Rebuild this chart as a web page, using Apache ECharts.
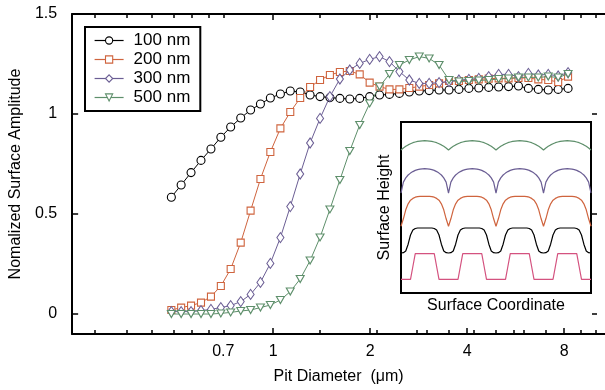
<!DOCTYPE html>
<html>
<head>
<meta charset="utf-8">
<script src="https://cdn.jsdelivr.net/npm/echarts@6/dist/echarts.min.js"></script>
<style>
  html, body { margin: 0; padding: 0; background: #fff; }
  #chart { width: 605px; height: 390px; }
</style>
</head>
<body>
<div id="chart"></div>
<script>
// pit diameter (um), same sampling for every wavelength
const pitDiameter = [0.483, 0.518, 0.556, 0.597, 0.641, 0.688, 0.738, 0.793, 0.851, 0.913,
  0.980, 1.053, 1.130, 1.213, 1.302, 1.398, 1.500, 1.611, 1.729, 1.856,
  1.993, 2.139, 2.296, 2.465, 2.646, 2.841, 3.049, 3.273, 3.514, 3.772,
  4.050, 4.347, 4.667, 5.010, 5.378, 5.773, 6.197, 6.653, 7.142, 7.667, 8.230];

const amp100 = [0.584, 0.645, 0.707, 0.768, 0.825, 0.884, 0.935, 0.980, 1.020, 1.050,
  1.080, 1.100, 1.115, 1.110, 1.095, 1.087, 1.082, 1.078, 1.075, 1.078,
  1.087, 1.095, 1.098, 1.103, 1.110, 1.115, 1.117, 1.120, 1.120, 1.123,
  1.128, 1.130, 1.133, 1.135, 1.137, 1.140, 1.128, 1.123, 1.120, 1.123, 1.128];
const amp200 = [0.020, 0.032, 0.042, 0.057, 0.087, 0.140, 0.225, 0.357, 0.517, 0.675,
  0.810, 0.928, 1.010, 1.080, 1.135, 1.170, 1.195, 1.210, 1.215, 1.198,
  1.157, 1.137, 1.123, 1.123, 1.130, 1.137, 1.145, 1.153, 1.165, 1.165,
  1.170, 1.173, 1.177, 1.178, 1.178, 1.180, 1.180, 1.173, 1.170, 1.160, 1.187];
const amp300 = [0.012, 0.012, 0.012, 0.017, 0.023, 0.032, 0.042, 0.062, 0.098, 0.158,
  0.253, 0.382, 0.537, 0.700, 0.855, 0.978, 1.087, 1.175, 1.220, 1.253,
  1.273, 1.287, 1.262, 1.212, 1.170, 1.153, 1.153, 1.157, 1.162, 1.170,
  1.173, 1.178, 1.187, 1.198, 1.198, 1.187, 1.203, 1.195, 1.198, 1.190, 1.207];
const amp500 = [0.000, 0.000, 0.000, 0.000, 0.000, 0.003, 0.008, 0.015, 0.020, 0.032,
  0.045, 0.070, 0.112, 0.175, 0.267, 0.383, 0.523, 0.670, 0.815, 0.945,
  1.053, 1.137, 1.200, 1.245, 1.270, 1.287, 1.278, 1.245, 1.170, 1.162,
  1.165, 1.168, 1.170, 1.175, 1.178, 1.183, 1.183, 1.183, 1.187, 1.183, 1.200];

const seriesNames = ['100 nm', '200 nm', '300 nm', '500 nm'];

const xTickValues = [0.7, 1, 2, 4, 8];
const xTickLabels = ['0.7', '1', '2', '4', '8'];
const xMajorTicks = [1, 2, 4, 8];
const xMinorTicks = [0.28, 0.35, 0.42, 0.49, 0.56, 0.63, 0.7, 1.4, 2.1, 2.8, 3, 3.5,
  4.2, 4.9, 5.6, 6, 7, 9, 10];
const yTickValues = [0, 0.5, 1, 1.5];

// inset: one period of each surface profile (arbitrary height units)
const insetPhase = [0, 0.05, 0.1, 0.15, 0.2, 0.25, 0.3, 0.35, 0.4, 0.45, 0.5,
  0.55, 0.6, 0.65, 0.7, 0.75, 0.8, 0.85, 0.9, 0.95, 1];
const profile500 = [14.30, 14.50, 14.67, 14.81, 14.92, 15.03, 15.10, 15.16, 15.19, 15.22, 15.23,
  15.22, 15.19, 15.16, 15.10, 15.03, 14.92, 14.81, 14.67, 14.50, 14.30];
const profile300 = [10.00, 11.09, 11.51, 11.80, 11.99, 12.14, 12.26, 12.33, 12.39, 12.42, 12.43,
  12.42, 12.39, 12.33, 12.26, 12.14, 11.99, 11.80, 11.51, 11.09, 10.00];
const profile200 = [6.67, 7.42, 8.32, 8.92, 9.28, 9.46, 9.58, 9.64, 9.67, 9.67, 9.67,
  9.67, 9.67, 9.64, 9.58, 9.46, 9.28, 8.92, 8.32, 7.42, 6.67];
const profile100 = [4.00, 4.03, 4.20, 4.88, 5.80, 6.30, 6.45, 6.50, 6.50, 6.50, 6.50,
  6.50, 6.50, 6.50, 6.45, 6.30, 5.80, 4.88, 4.20, 4.03, 4.00];
const pitProfile = [1.37, 1.37, 1.37, 1.37, 1.37, 2.65, 3.93, 3.93, 3.93, 3.93, 3.93,
  3.93, 3.93, 3.93, 3.93, 2.65, 1.37, 1.37, 1.37, 1.37, 1.37];
const insetPeriods = 4;

const colors = ['#000000', '#cf643e', '#6b5e94', '#5e8f6b'];
const pitColor = '#d4527f';
const font = 'Liberation Sans, Arial, Helvetica, sans-serif';

const lg = v => Math.log10(v);

function repeatProfile(profile) {
  const out = [];
  for (let k = 0; k < insetPeriods; k++) {
    insetPhase.forEach((p, j) => {
      if (k > 0 && j === 0) return;
      out.push([k + p, profile[j]]);
    });
  }
  return out;
}

const chart = echarts.init(document.getElementById('chart'), null, { renderer: 'canvas' });

const xMin = -0.624, xMax = 1.03;
const axisBlack = { color: '#000', width: 2 };

function xAxisDef(position, ticks, len, withLine, withLabel) {
  return {
    type: 'value', gridIndex: 0, position: position, min: xMin, max: xMax,
    axisLine: { show: withLine, onZero: false, lineStyle: axisBlack },
    axisTick: { show: true, inside: true, length: len, customValues: ticks.map(lg),
      lineStyle: { color: '#000', width: 1.5 } },
    axisLabel: {
      show: withLabel, margin: 10, fontSize: 16, color: '#000', fontFamily: font,
      customValues: xTickValues.map(lg),
      formatter: v => {
        const i = xTickValues.findIndex(t => Math.abs(lg(t) - v) < 1e-6);
        return i >= 0 ? xTickLabels[i] : '';
      }
    },
    splitLine: { show: false }
  };
}

const mainX = xAxisDef('bottom', xMajorTicks, 6, true, true);
mainX.name = 'Pit Diameter  (\u03bcm)';
mainX.nameLocation = 'middle';
mainX.nameGap = 35;
mainX.nameTextStyle = { fontSize: 16, color: '#000', fontFamily: font };

const symbols = [
  { symbol: 'circle', size: 8, rotate: 0 },
  { symbol: 'rect', size: 7, rotate: 0 },
  { symbol: 'diamond', size: [7, 10], rotate: 0 },
  { symbol: 'triangle', size: [8, 7], rotate: 180 }
];
const amps = [amp100, amp200, amp300, amp500];

const mainSeries = amps.map((a, s) => ({
  name: seriesNames[s], type: 'line', xAxisIndex: 0, yAxisIndex: 0,
  data: pitDiameter.map((d, i) => [lg(d), a[i]]),
  symbol: symbols[s].symbol, symbolSize: symbols[s].size, symbolRotate: symbols[s].rotate,
  showAllSymbol: true,
  lineStyle: { color: colors[s], width: 1 },
  itemStyle: { color: '#fff', borderColor: colors[s], borderWidth: 1.1 },
  emphasis: { disabled: true },
  z: 3 + s, animation: false
}));

const insetProfiles = [profile500, profile300, profile200, profile100, pitProfile];
const insetColors = [colors[3], colors[2], colors[1], colors[0], pitColor];
const insetSeries = insetProfiles.map((p, i) => ({
  type: 'line', xAxisIndex: 4, yAxisIndex: 2, data: repeatProfile(p),
  symbol: 'none', smooth: false, lineStyle: { color: insetColors[i], width: 1.2 },
  emphasis: { disabled: true }, animation: false, silent: true
}));

const option = {
  backgroundColor: '#fff',
  animation: false,
  textStyle: { fontFamily: font },
  legend: {
    data: seriesNames, orient: 'vertical', left: 85, top: 27,
    padding: [5, 10, 5, 9], itemGap: 2, itemWidth: 29, itemHeight: 9,
    borderColor: '#000', borderWidth: 2, backgroundColor: '#fff',
    lineStyle: { width: 1.2 },
    itemStyle: { borderWidth: 1.1 },
    textStyle: { fontSize: 17, color: '#000', fontFamily: font, padding: [0, 0, 0, 5] },
    selectedMode: false
  },
  grid: [
    { left: 72, top: 14, right: 0, bottom: 56, show: false },
    { left: 401, top: 122, width: 190, height: 171, show: true,
      borderColor: '#000', borderWidth: 2, backgroundColor: '#fff', z: 1 }
  ],
  xAxis: [
    mainX,
    xAxisDef('bottom', xMinorTicks, 4, false, false),
    xAxisDef('top', xMajorTicks, 6, true, false),
    xAxisDef('top', xMinorTicks, 4, false, false),
    {
      type: 'value', gridIndex: 1, min: 0, max: insetPeriods,
      axisLine: { show: false }, axisTick: { show: false }, axisLabel: { show: false },
      splitLine: { show: false },
      name: 'Surface Coordinate', nameLocation: 'middle', nameGap: 5,
      nameTextStyle: { fontSize: 16, color: '#000', fontFamily: font }
    }
  ],
  yAxis: [
    {
      type: 'value', gridIndex: 0, position: 'left', min: -0.1, max: 1.5,
      axisLine: { show: true, onZero: false, lineStyle: axisBlack },
      axisTick: { show: true, inside: true, length: 6, customValues: yTickValues,
        lineStyle: { color: '#000', width: 1.5 } },
      axisLabel: { margin: 15, fontSize: 16, color: '#000', fontFamily: font,
        customValues: yTickValues },
      splitLine: { show: false },
      name: 'Nomalized Surface Amplitude', nameLocation: 'middle', nameGap: 44,
      nameTextStyle: { fontSize: 16, color: '#000', fontFamily: font }
    },
    {
      type: 'value', gridIndex: 0, position: 'right', offset: -8, min: -0.1, max: 1.5,
      axisLine: { show: false, onZero: false },
      axisTick: { show: true, inside: true, length: 5, customValues: yTickValues,
        lineStyle: { color: '#000', width: 1.5 } },
      axisLabel: { show: false }, splitLine: { show: false }
    },
    {
      type: 'value', gridIndex: 1, min: 0, max: 17.1,
      axisLine: { show: false }, axisTick: { show: false }, axisLabel: { show: false },
      splitLine: { show: false },
      name: 'Surface Height', nameLocation: 'middle', nameGap: 8,
      nameTextStyle: { fontSize: 16, color: '#000', fontFamily: font }
    }
  ],
  series: mainSeries.concat(insetSeries)
};

chart.setOption(option);
window.addEventListener('resize', () => chart.resize());
</script>
</body>
</html>
